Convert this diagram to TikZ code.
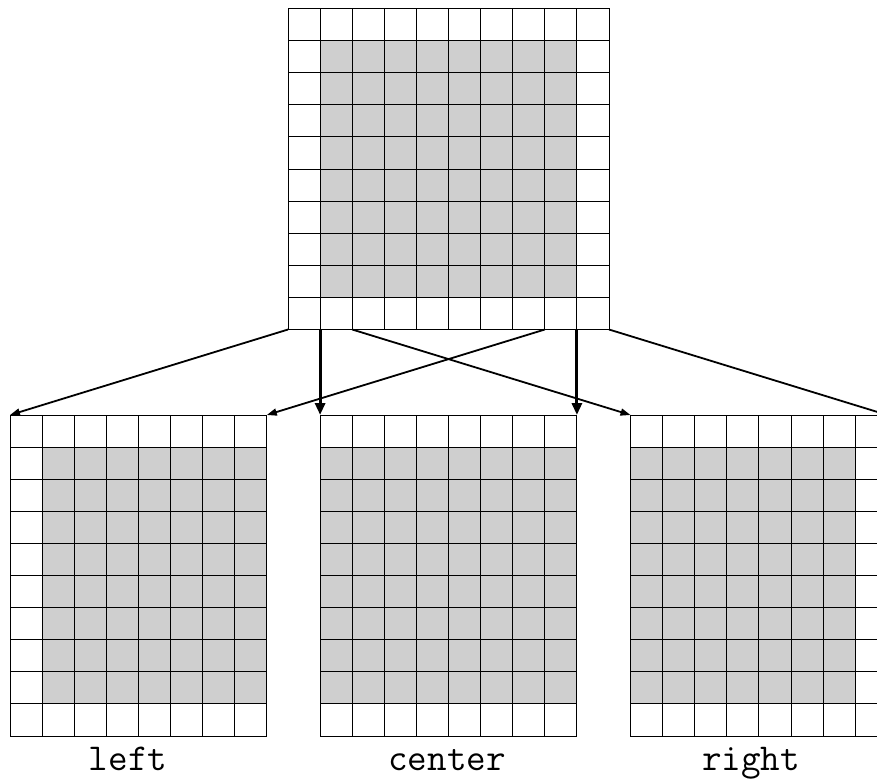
\documentclass[tikz,border=0pt]{standalone}
\usetikzlibrary{arrows.meta}
\newcommand\drawgrid[5]{% #1 x0, #2 y0, #3 ncols, #4 first shaded col, #5 last shaded col
  \fill[shadecell] ({#1+#4*32.1},{#2+32.1}) rectangle ({#1+(#5+1)*32.1},{#2+9*32.1});
  \foreach \i in {0,...,#3} \draw[gridline] ({#1+\i*32.1},#2) -- ({#1+\i*32.1},{#2+321});
  \foreach \j in {0,...,10} \draw[gridline] (#1,{#2+\j*32.1}) -- ({#1+#3*32.1},{#2+\j*32.1});
}
\begin{document}
\begin{tikzpicture}[x=1pt,y=-1pt,
  gridline/.style={line width=1pt,line cap=rect},
  shadecell/.style={fill=black!19},
  thinarrow/.style={line width=1.8pt,-{Triangle[length=10pt,width=7pt]}},
  thickarrow/.style={line width=3pt,-{Triangle[length=12pt,width=10pt]}},
  lab/.style={font=\ttfamily\fontsize{38}{38}\selectfont, anchor=base, inner sep=0pt}]
\useasboundingbox (0,0) rectangle (877,779);
\clip (0,0) rectangle (877,779);
% grids
\drawgrid{288}{8.5}{10}{1}{8}
\drawgrid{10}{415}{8}{1}{7}
\drawgrid{320.1}{415}{8}{0}{7}
\drawgrid{630.5}{415}{8}{0}{6}
% coordinates
\coordinate (t0) at (288,329.5);
\coordinate (t1) at (320.1,329.5);
\coordinate (t2) at (352.2,329.5);
\coordinate (t8) at (544.8,329.5);
\coordinate (t9) at (576.9,329.5);
\coordinate (t10) at (609,329.5);
\coordinate (lTL) at (10,415);
\coordinate (lTR) at (266.8,415);
\coordinate (cTL) at (320.1,415);
\coordinate (cTR) at (576.9,415);
\coordinate (rTL) at (630.5,415);
\coordinate (rTR) at (887.3,415);
% arrows
\draw[thinarrow] (t0) -- (lTL);
\draw[thinarrow] (t8) -- (lTR);
\draw[thinarrow] (t2) -- (rTL);
\draw[thinarrow] (t10) -- (rTR);
\draw[thickarrow] (t1) -- (cTL);
\draw[thickarrow] (t9) -- (cTR);
% labels
\node[lab] (leftlab) at (128,770) {left};
\node[lab] (centerlab) at (447,770) {center};
\node[lab] (rightlab) at (751,770) {right};
\end{tikzpicture}
\end{document}
